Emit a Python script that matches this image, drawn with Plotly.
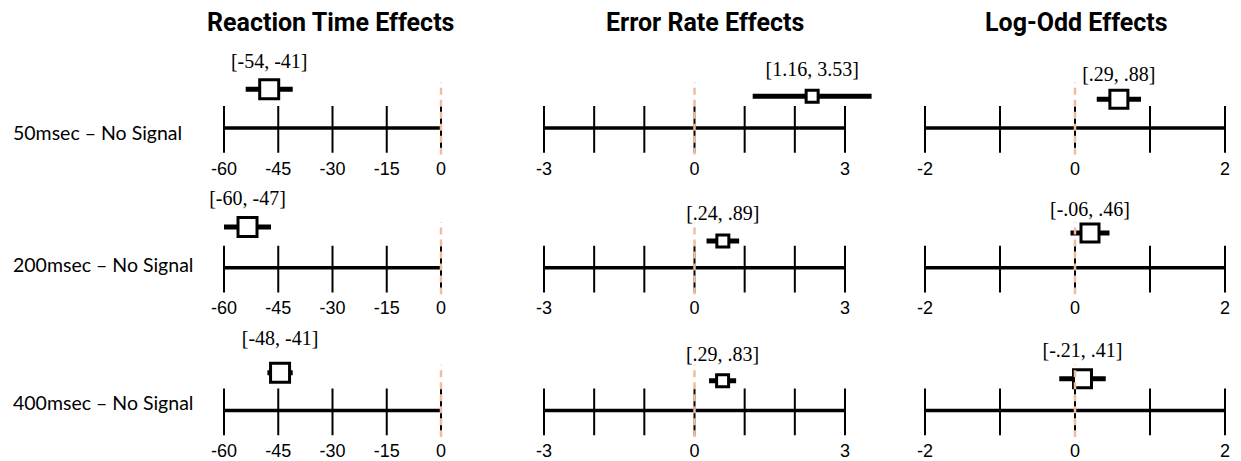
import plotly.graph_objects as go

W, H = 1241, 461

# ---- data ---------------------------------------------------------------
row_names = ["50msec – No Signal", "200msec – No Signal", "400msec – No Signal"]
panel_titles = ["Reaction Time Effects", "Error Rate Effects", "Log-Odd Effects"]

# 95% confidence intervals (lower, upper) for each condition
rt_ci_low = [-54, -60, -48]
rt_ci_high = [-41, -47, -41]
er_ci_low = [1.16, 0.24, 0.29]
er_ci_high = [3.53, 0.89, 0.83]
lo_ci_low = [0.29, -0.06, -0.21]
lo_ci_high = [0.88, 0.46, 0.41]

# scales
rt_axis = [-60, 0]
rt_ticks = [-60, -45, -30, -15, 0]
rt_tick_labels = [-60, -45, -30, -15, 0]
er_axis = [-3, 3]
er_ticks = [-3, -2, -1, 0, 1, 2, 3]
er_tick_labels = [-3, 0, 3]
lo_axis = [-2, 2]
lo_ticks = [-2, -1, 0, 1, 2]
lo_tick_labels = [-2, 0, 2]

panels = [
    (rt_axis, rt_ticks, rt_tick_labels, rt_ci_low, rt_ci_high),
    (er_axis, er_ticks, er_tick_labels, er_ci_low, er_ci_high),
    (lo_axis, lo_ticks, lo_tick_labels, lo_ci_low, lo_ci_high),
]

# ---- geometry (pixels) --------------------------------------------------
col_px = [(224, 441), (544, 845), (925, 1225)]   # pixel span of each number line
row_line = [129, 270, 414]                       # y of the number line per row
title_x = [330, 705, 1076]
row_label_y = [134, 267, 406]
box_outer = [22, 15, 21]                          # square size per column
# height of estimate / CI label above the line, per [row][col]
box_up = [[39, 32, 29], [41, 27, 35], [38, 30, 32]]
text_up = [[65, 57, 52], [68, 53, 57], [71, 55, 59]]

PAD = 45
Y_TOP, Y_BOT = 85, 27
TICK_UP, TICK_DOWN = 22, 25
REF_COLOR = "#f0bc9c"
SERIF = "Liberation Serif, Times New Roman, serif"
SANS = "Liberation Sans, Arial, sans-serif"


def fmt(v):
    if float(v).is_integer():
        return str(int(v))
    s = f"{v:.2f}"
    return s.replace("0.", ".", 1) if abs(v) < 1 else s


fig = go.Figure()
layout = dict(
    width=W, height=H, margin=dict(l=0, r=0, t=0, b=0),
    paper_bgcolor="white", plot_bgcolor="rgba(0,0,0,0)",
    showlegend=False, hovermode=False,
)

idx = 0
for r in range(3):
    for c in range(3):
        idx += 1
        axis, ticks, tick_labels, ci_lo, ci_hi = panels[c]
        lo, hi = axis
        x0p, x1p = col_px[c]
        pad_l = min(PAD, x0p)
        pad_r = min(PAD, W - x1p - 1)
        upp = (hi - lo) / (x1p - x0p)
        xr = [lo - pad_l * upp, hi + pad_r * upp]
        dom_x = [(x0p - pad_l) / W, (x1p + pad_r) / W]
        line_y = row_line[r]
        dom_y = [1 - (line_y + Y_BOT) / H, 1 - (line_y - Y_TOP) / H]

        xa = "x" if idx == 1 else f"x{idx}"
        ya = "y" if idx == 1 else f"y{idx}"
        layout["xaxis" if idx == 1 else f"xaxis{idx}"] = dict(
            domain=dom_x, range=xr, anchor=ya,
            tickmode="array", tickvals=tick_labels,
            ticktext=[fmt(t) for t in tick_labels],
            ticks="", showline=False, showgrid=False, zeroline=False,
            tickfont=dict(family=SANS, size=18, color="black"),
            ticklabelstandoff=1, fixedrange=True,
        )
        layout["yaxis" if idx == 1 else f"yaxis{idx}"] = dict(
            domain=dom_y, range=[-Y_BOT, Y_TOP], anchor=xa,
            visible=False, fixedrange=True,
        )

        common = dict(xaxis=xa, yaxis=ya, cliponaxis=False, hoverinfo="skip")

        # number line
        fig.add_trace(go.Scatter(x=[lo, hi], y=[0, 0], mode="lines",
                                 line=dict(color="black", width=3.5), **common))
        # tick marks crossing the line
        tx, ty = [], []
        for t in ticks:
            tx += [t, t, None]
            ty += [-TICK_DOWN, TICK_UP, None]
        fig.add_trace(go.Scatter(x=tx, y=ty, mode="lines",
                                 line=dict(color="black", width=2), **common))

        # confidence interval whisker and point estimate
        a, b = ci_lo[r], ci_hi[r]
        mid = (a + b) / 2
        yb = box_up[r][c]
        fig.add_trace(go.Scatter(x=[a, b], y=[yb, yb], mode="lines",
                                 line=dict(color="black", width=5), **common))
        fig.add_trace(go.Scatter(
            x=[mid], y=[yb], mode="markers",
            marker=dict(symbol="square", size=box_outer[c] - 3, color="white",
                        line=dict(color="black", width=3)),
            **common))
        fig.add_trace(go.Scatter(
            x=[mid], y=[text_up[r][c]], mode="text",
            text=[f"[{fmt(a)}, {fmt(b)}]"], textposition="middle center",
            textfont=dict(family=SERIF, size=20, color="black"), **common))

        # dashed reference line at zero
        fig.add_trace(go.Scatter(
            x=[0, 0], y=[-Y_BOT, 46], mode="lines",
            line=dict(color=REF_COLOR, width=2.5, dash="7px,5px"), **common))

annotations = []
for c, t in enumerate(panel_titles):
    annotations.append(dict(
        text=f"<b>{t}</b>", x=title_x[c] / W, y=1 - 23 / H,
        xref="paper", yref="paper", xanchor="center", yanchor="middle",
        showarrow=False, font=dict(family="Roboto", size=25, color="black")))
for r, name in enumerate(row_names):
    annotations.append(dict(
        text=name, x=11 / W, y=1 - row_label_y[r] / H,
        xref="paper", yref="paper", xanchor="left", yanchor="middle",
        showarrow=False, font=dict(family="Lato", size=19.5, color="black")))
layout["annotations"] = annotations

fig.update_layout(**layout)
fig.write_html("out.html")
